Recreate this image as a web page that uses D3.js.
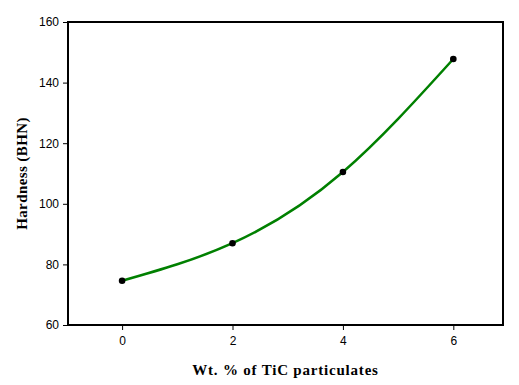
<!DOCTYPE html>
<html>
<head>
<meta charset="utf-8">
<script src="https://cdn.jsdelivr.net/npm/d3@7"></script>
<style>
    body { margin: 0; background: #fff; }
    svg { display: block; }
</style>
</head>
<body>
<div id="chart"></div>
<script>
// values
const tic_wt = [0, 2, 4, 6]
const hardness = [74.6, 87.0, 110.5, 147.8]
const x_ticks = [0, 2, 4, 6]
const y_ticks = [60, 80, 100, 120, 140, 160]

const W = 519, H = 385
const margin = { top: 22, right: 16, bottom: 60, left: 68 }
const width = W - margin.left - margin.right
const height = H - margin.top - margin.bottom

const data = tic_wt.map((x, i) => ({ x, y: hardness[i] }))

const svg = d3.select("#chart")
    .append("svg")
    .attr("width", W)
    .attr("height", H)

const g = svg.append("g")
    .attr("transform", `translate(${margin.left}, ${margin.top})`)

const x = d3.scaleLinear().domain([-0.98, 6.9]).range([0, width])
const y = d3.scaleLinear().domain([60, 160]).range([height, 0])

/* X AXIS */
const x_axis = g.append("g")
    .attr("transform", `translate(0, ${height})`)
    .call(d3.axisBottom(x).tickValues(x_ticks).tickSize(5).tickPadding(6))
x_axis.select(".domain").remove()

/* Y AXIS */
const y_axis = g.append("g")
    .call(d3.axisLeft(y).tickValues(y_ticks).tickSize(5).tickPadding(4))
y_axis.select(".domain").remove()

g.selectAll(".tick line").attr("stroke", "#000").attr("stroke-width", 1)
g.selectAll(".tick text")
    .attr("fill", "#000")
    .style("font-family", "Arial, 'Liberation Sans', sans-serif")
    .style("font-size", "12px")

// frame
g.append("rect")
    .attr("x", 0)
    .attr("y", 0)
    .attr("width", width)
    .attr("height", height)
    .attr("fill", "none")
    .attr("stroke", "#000")
    .attr("stroke-width", 2)

/* CURVE */
const line = d3.line()
    .x(d => x(d.x))
    .y(d => y(d.y))
    .curve(d3.curveNatural)

g.append("path")
    .datum(data)
    .attr("d", line)
    .attr("fill", "none")
    .attr("stroke", "#008000")
    .attr("stroke-width", 2.5)

g.selectAll(".point")
    .data(data)
    .enter()
    .append("circle")
    .attr("class", "point")
    .attr("cx", d => x(d.x))
    .attr("cy", d => y(d.y))
    .attr("r", 3.3)
    .attr("fill", "#000")

/* AXIS TITLES */
svg.append("text")
    .attr("x", margin.left + width / 2)
    .attr("y", 375)
    .attr("text-anchor", "middle")
    .style("font-family", "'Times New Roman', 'Liberation Serif', serif")
    .style("font-weight", "bold")
    .style("font-size", "15px")
    .style("letter-spacing", "0.8px")
    .text("Wt. % of TiC particulates")

svg.append("text")
    .attr("transform", `translate(27, ${margin.top + height / 2}) rotate(-90)`)
    .attr("text-anchor", "middle")
    .style("font-family", "'Times New Roman', 'Liberation Serif', serif")
    .style("font-weight", "bold")
    .style("font-size", "15px")
    .style("letter-spacing", "0.4px")
    .text("Hardness (BHN)")
</script>
</body>
</html>
